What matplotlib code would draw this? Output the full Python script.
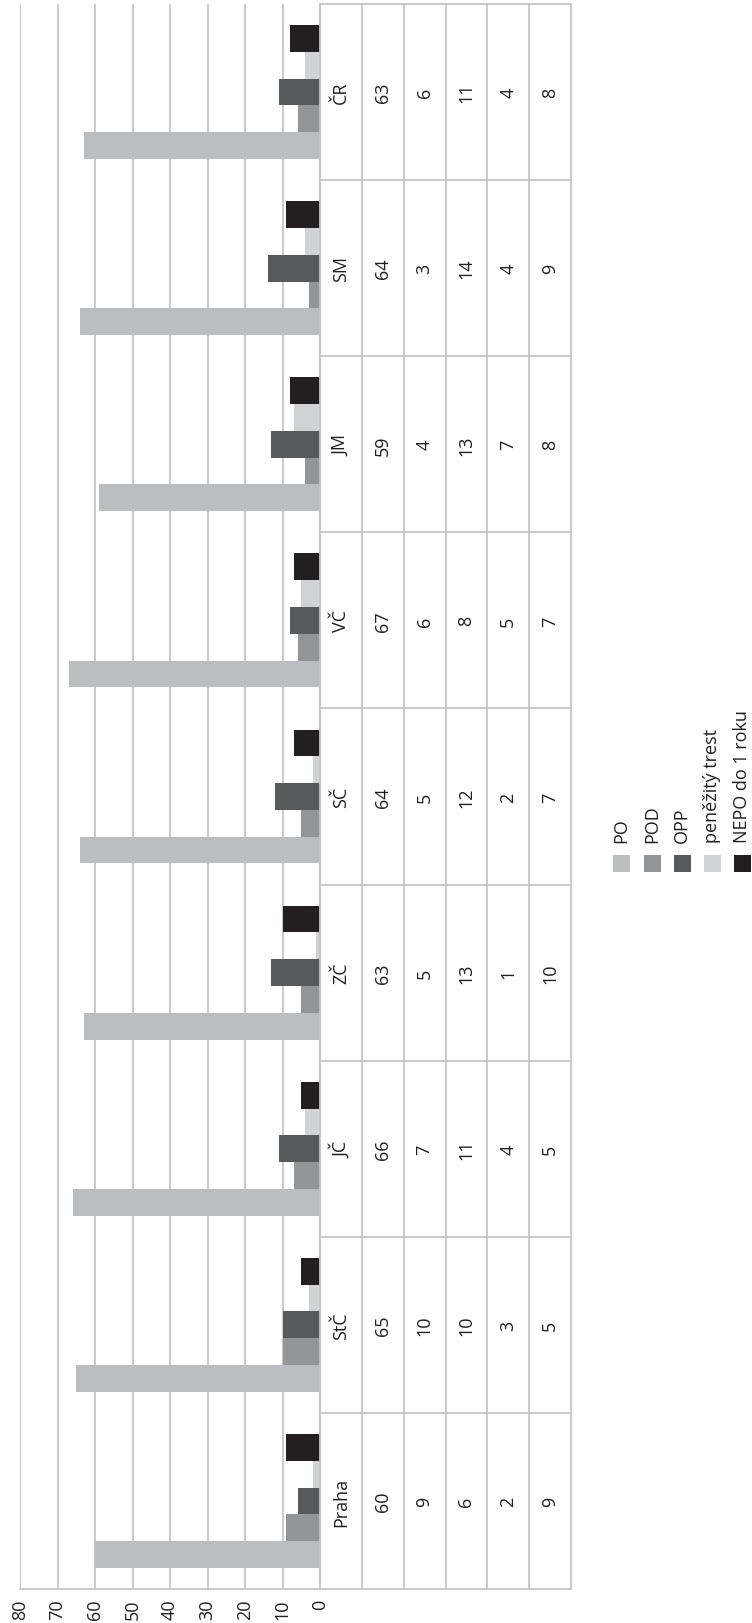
import matplotlib
matplotlib.use('Agg')
import matplotlib.pyplot as plt
from matplotlib.patches import Rectangle
import numpy as np

plt.rcParams['font.family'] = ['Open Sans', 'DejaVu Sans']

regions = ['Praha', 'StČ', 'JČ', 'ZČ', 'SČ', 'VČ', 'JM', 'SM', 'ČR']
series = ['PO', 'POD', 'OPP', 'peněžitý trest', 'NEPO do 1 roku']
po = [60, 65, 66, 63, 64, 67, 59, 64, 63]
pod = [9, 10, 7, 5, 5, 6, 4, 3, 6]
opp = [6, 10, 11, 13, 12, 8, 13, 14, 11]
penezity = [2, 3, 4, 1, 2, 5, 7, 4, 4]
nepo = [9, 5, 5, 10, 7, 7, 8, 9, 8]
x_ticks = [0, 10, 20, 30, 40, 50, 60, 70, 80]

values = [po, pod, opp, penezity, nepo]
colors = ['#bcbdc0', '#939598', '#58595b', '#d1d2d4', '#231f20']
grid_col = '#c4c5c7'
fs = 13

W, H = 752, 1624
fig = plt.figure(figsize=(W / 100, H / 100), dpi=100)


def fx(x):
    return x / W


def fy(y):
    return 1 - y / H


# chart is drawn turned by 90 degrees: values run right -> left
left, right, top, bottom = 20, 320, 5, 1590
ax = fig.add_axes([fx(left), fy(bottom), (right - left) / W, (bottom - top) / H])

n = len(regions)
pos = np.arange(n)
bw = 0.152
for i, (vals, c) in enumerate(zip(values, colors)):
    ax.barh(pos + (i - 2) * bw, vals, height=bw, color=c, zorder=3)

ax.set_xlim(80, 0)
ax.set_ylim(-0.5, n - 0.5)
ax.set_xticks(x_ticks)
ax.set_xticklabels([str(t) for t in x_ticks], rotation=90, fontsize=fs, color='#231f20')
ax.tick_params(axis='x', length=0, pad=7)
ax.set_yticks([])
ax.grid(axis='x', color=grid_col, lw=1.3, zorder=0)
for s in ['top', 'left']:
    ax.spines[s].set_visible(False)
for s in ['bottom', 'right']:
    ax.spines[s].set_color(grid_col)
    ax.spines[s].set_linewidth(1.3)

# data table
ncol = 6
tab = fig.add_axes([fx(320), fy(bottom), 251 / W, (bottom - top) / H])
tab.set_xlim(0, ncol)
tab.set_ylim(-0.5, n - 0.5)
tab.axis('off')
for k in range(ncol + 1):
    tab.plot([k, k], [-0.5, n - 0.5], color=grid_col, lw=1.3, clip_on=False)
for j in range(n + 1):
    tab.plot([0, ncol], [j - 0.5, j - 0.5], color=grid_col, lw=1.3, clip_on=False)
for j in range(n):
    tab.text(0.5, j, regions[j], rotation=90, ha='center', va='center',
             fontsize=fs, color='#231f20')
    for k, vals in enumerate(values):
        tab.text(k + 1.5, j, str(vals[j]), rotation=90, ha='center', va='center',
                 fontsize=fs, color='#231f20')

# legend
leg_x = [621, 652, 682, 712, 742]
sq = 17
for cx, name, c in zip(leg_x, series, colors):
    fig.add_artist(Rectangle((fx(cx - sq / 2), fy(873)), sq / W, sq / H,
                             transform=fig.transFigure, color=c, lw=0))
    fig.text(fx(cx), fy(843), name, rotation=90, ha='center', va='bottom',
             fontsize=fs, color='#231f20')

fig.savefig('out.png', dpi=100)
